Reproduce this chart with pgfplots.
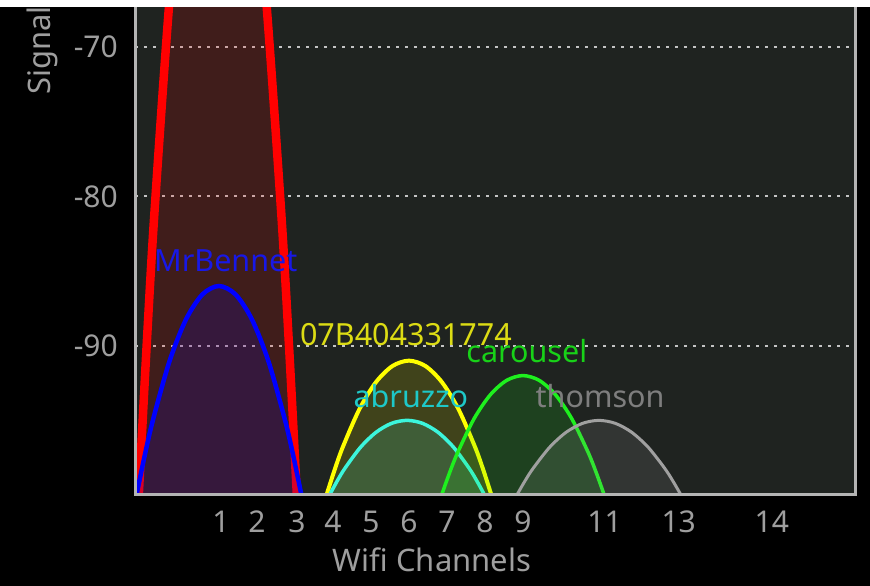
\documentclass[border=0pt]{standalone}
\usepackage{pgfplots}
\pgfplotsset{compat=1.18}
\usepackage{fontspec}
\setmainfont{Noto Sans}
\definecolor{bgplot}{HTML}{1F2320}
\definecolor{axgray}{HTML}{B4B4B4}
\definecolor{gridgray}{HTML}{C4C4C4}
\definecolor{txtgray}{HTML}{9E9E9E}
\definecolor{sred}{HTML}{FF0000}
\definecolor{sblue}{HTML}{0000FF}
\definecolor{syellow}{HTML}{FFFF00}
\definecolor{scyan}{HTML}{3CF5DC}
\definecolor{sgreen}{HTML}{1EF01E}
\definecolor{sgray}{HTML}{A0A0A0}
\definecolor{lblue}{HTML}{1818E6}
\definecolor{lyellow}{HTML}{DCDC14}
\definecolor{lgreen}{HTML}{18D218}
\definecolor{lcyan}{HTML}{1EC8C8}
\definecolor{lgray}{HTML}{7E7E7E}
\begin{document}
\begin{tikzpicture}
\fill[black] (0pt,0pt) rectangle (870pt,586pt);
\useasboundingbox (0pt,0pt) rectangle (870pt,586pt);
\begin{axis}[
  at={(135pt,91pt)}, anchor=south west, scale only axis,
  width=720pt, height=488pt,
  xmin=-1.21, xmax=17.74, ymin=-100, ymax=-67.31,
  clip mode=individual,
  axis background/.style={fill=bgplot},
  axis line style={draw=none},
  major tick length=0pt,
  ytick={-90,-80,-70}, yticklabels={-90,-80,-70},
  xtick={1.05,2,3.05,4,5,6,7,8,9,11.15,13.1,15.55},
  xticklabels={1,2,3,4,5,6,7,8,9,11,13,14},
  ymajorgrids,
  major grid style={gridgray, line width=2pt, dash pattern=on 2.5pt off 6.5pt},
  ticklabel style={font=\fontsize{30}{36}\selectfont, text=txtgray, inner sep=0pt},
  yticklabel style={anchor=east, xshift=-17pt},
  xticklabel style={anchor=north, yshift=-16pt},
  xlabel={Wifi Channels},
  xlabel style={font=\fontsize{31}{36}\selectfont, text=txtgray, inner sep=0pt,
    at={(axis description cs:0.4125,0)}, anchor=base, yshift=-77pt},
]
% red (unnamed, peak above view)
\addplot[draw=none, fill=sred, fill opacity=0.15, smooth] coordinates {
(-1.11,-100) (-0.902,-89.93) (-0.694,-80.92) (-0.278,-66.08) (0.138,-55.48) (0.554,-49.12) (0.97,-47) (1.386,-49.12) (1.802,-55.48) (2.218,-66.08) (2.634,-80.92) (2.842,-89.93) (3.05,-100)};
\addplot[sred, line width=8.5pt, smooth] coordinates {
(-1.11,-100) (-0.902,-89.93) (-0.694,-80.92) (-0.278,-66.08) (0.138,-55.48) (0.554,-49.12) (0.97,-47) (1.386,-49.12) (1.802,-55.48) (2.218,-66.08) (2.634,-80.92) (2.842,-89.93) (3.05,-100)};
% MrBennet
\addplot[draw=none, fill=sblue, fill opacity=0.15, smooth] coordinates {
(-1.17,-100) (-0.953,-97.34) (-0.736,-94.96) (-0.302,-91.04) (0.132,-88.24) (0.566,-86.56) (1,-86) (1.434,-86.56) (1.868,-88.24) (2.302,-91.04) (2.736,-94.96) (2.953,-97.34) (3.17,-100)};
\addplot[sblue, line width=4.5pt, smooth] coordinates {
(-1.17,-100) (-0.953,-97.34) (-0.736,-94.96) (-0.302,-91.04) (0.132,-88.24) (0.566,-86.56) (1,-86) (1.434,-86.56) (1.868,-88.24) (2.302,-91.04) (2.736,-94.96) (2.953,-97.34) (3.17,-100)};
% 07B404331774
\addplot[draw=none, fill=syellow, fill opacity=0.15, smooth] coordinates {
(3.83,-100) (4.047,-98.29) (4.264,-96.76) (4.698,-94.24) (5.132,-92.44) (5.566,-91.36) (6,-91) (6.434,-91.36) (6.868,-92.44) (7.302,-94.24) (7.736,-96.76) (7.953,-98.29) (8.17,-100)};
\addplot[syellow, line width=4pt, smooth] coordinates {
(3.83,-100) (4.047,-98.29) (4.264,-96.76) (4.698,-94.24) (5.132,-92.44) (5.566,-91.36) (6,-91) (6.434,-91.36) (6.868,-92.44) (7.302,-94.24) (7.736,-96.76) (7.953,-98.29) (8.17,-100)};
% abruzzo
\addplot[draw=none, fill=scyan, fill opacity=0.15, smooth] coordinates {
(3.91,-100) (4.114,-99.05) (4.318,-98.2) (4.726,-96.8) (5.134,-95.8) (5.542,-95.2) (5.95,-95) (6.358,-95.2) (6.766,-95.8) (7.174,-96.8) (7.582,-98.2) (7.786,-99.05) (7.99,-100)};
\addplot[scyan, line width=3.5pt, smooth] coordinates {
(3.91,-100) (4.114,-99.05) (4.318,-98.2) (4.726,-96.8) (5.134,-95.8) (5.542,-95.2) (5.95,-95) (6.358,-95.2) (6.766,-95.8) (7.174,-96.8) (7.582,-98.2) (7.786,-99.05) (7.99,-100)};
% carousel
\addplot[draw=none, fill=sgreen, fill opacity=0.15, smooth] coordinates {
(6.86,-100) (7.074,-98.48) (7.288,-97.12) (7.716,-94.88) (8.144,-93.28) (8.572,-92.32) (9,-92) (9.428,-92.32) (9.856,-93.28) (10.284,-94.88) (10.712,-97.12) (10.926,-98.48) (11.14,-100)};
\addplot[sgreen, line width=3.5pt, smooth] coordinates {
(6.86,-100) (7.074,-98.48) (7.288,-97.12) (7.716,-94.88) (8.144,-93.28) (8.572,-92.32) (9,-92) (9.428,-92.32) (9.856,-93.28) (10.284,-94.88) (10.712,-97.12) (10.926,-98.48) (11.14,-100)};
% thomson
\addplot[draw=none, fill=sgray, fill opacity=0.15, smooth] coordinates {
(8.84,-100) (9.056,-99.05) (9.272,-98.2) (9.704,-96.8) (10.136,-95.8) (10.568,-95.2) (11,-95) (11.432,-95.2) (11.864,-95.8) (12.296,-96.8) (12.728,-98.2) (12.944,-99.05) (13.16,-100)};
\addplot[sgray, line width=3pt, smooth] coordinates {
(8.84,-100) (9.056,-99.05) (9.272,-98.2) (9.704,-96.8) (10.136,-95.8) (10.568,-95.2) (11,-95) (11.432,-95.2) (11.864,-95.8) (12.296,-96.8) (12.728,-98.2) (12.944,-99.05) (13.16,-100)};
% labels
\node[text=lblue, font=\fontsize{30.5}{36}\selectfont, inner sep=0pt] at (axis cs:1.18,-84.3) {MrBennet};
\node[text=lyellow, font=\fontsize{30.5}{36}\selectfont, inner sep=0pt] at (axis cs:5.92,-89.26) {07B404331774};
\node[text=lgreen, font=\fontsize{30.5}{36}\selectfont, inner sep=0pt] at (axis cs:9.1,-90.33) {carousel};
\node[text=lcyan, font=\fontsize{30.5}{36}\selectfont, inner sep=0pt] at (axis cs:6.05,-93.4) {abruzzo};
\node[text=lgray, font=\fontsize{30.5}{36}\selectfont, inner sep=0pt] at (axis cs:11.03,-93.35) {thomson};
% frame: left, bottom, right
\draw[axgray, line width=3pt] (rel axis cs:0,1) -- (rel axis cs:0,0) -- (rel axis cs:1,0) -- (rel axis cs:1,1);
\end{axis}
\node[rotate=90, anchor=base west, text=txtgray, font=\fontsize{31}{36}\selectfont, inner sep=0pt] at (50pt,491pt) {Signal};
\fill[white] (0pt,579pt) rectangle (870pt,586pt);
\end{tikzpicture}
\end{document}
